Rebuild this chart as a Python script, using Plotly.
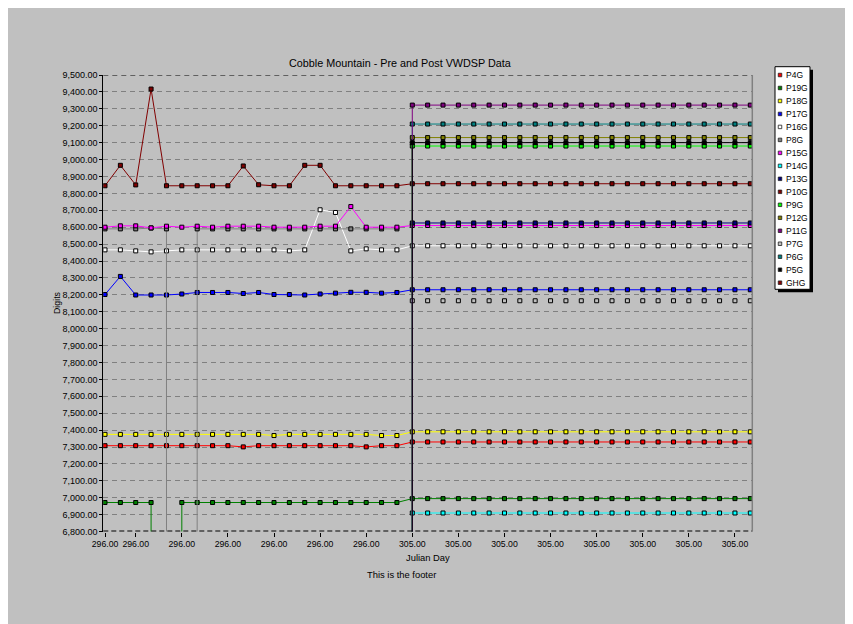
import plotly.graph_objects as go

W, H = 853, 624
MISSING = -999999.0  # logger "no data" value: drawn far below the axis
N = None             # no sample recorded

# ---------------- data ----------------
x_index = list(range(43))
x_tick_index = [0, 2, 5, 8, 11, 14, 17, 20, 23, 26, 29, 32, 35, 38, 41]
x_tick_labels = ["296.00", "296.00", "296.00", "296.00", "296.00", "296.00", "296.00",
                 "305.00", "305.00", "305.00", "305.00", "305.00", "305.00", "305.00", "305.00"]

Y_MIN, Y_MAX, Y_STEP = 6800, 9500, 100

P4G = [7308, 7308, 7308, 7308, 7308, 7308, 7308, 7308, 7308, 7301, 7308, 7308, 7308, 7308, 7308, 7308, 7308, 7301, 7308, 7308,
       7330, 7330, 7330, 7330, 7330, 7330, 7330, 7330, 7330, 7330, 7330, 7330, 7330, 7330, 7330, 7330, 7330, 7330, 7330, 7330, 7330, 7330, 7330]
P19G = [6972, 6972, 6972, 6972, MISSING, 6972, 6972, 6972, 6972, 6972, 6972, 6972, 6972, 6972, 6972, 6972, 6972, 6972, 6972, 6972,
        6995, 6995, 6995, 6995, 6995, 6995, 6995, 6995, 6995, 6995, 6995, 6995, 6995, 6995, 6995, 6995, 6995, 6995, 6995, 6995, 6995, 6995, 6995]
P18G = [7375, 7375, 7375, 7375, 7375, 7375, 7375, 7375, 7375, 7375, 7375, 7368, 7375, 7375, 7375, 7375, 7375, 7375, 7368, 7368,
        7390, 7390, 7390, 7390, 7390, 7390, 7390, 7390, 7390, 7390, 7390, 7390, 7390, 7390, 7390, 7390, 7390, 7390, 7390, 7390, 7390, 7390, 7390]
P17G = [8202, 8309, 8199, 8199, 8199, 8205, 8214, 8214, 8214, 8208, 8214, 8202, 8202, 8199, 8205, 8210, 8215, 8215, 8210, 8214,
        8230, 8230, 8230, 8230, 8230, 8230, 8230, 8230, 8230, 8230, 8230, 8230, 8230, 8230, 8230, 8230, 8230, 8230, 8230, 8230, 8230, 8230, 8230]
P16G = [8466, 8466, 8460, 8454, 8460, 8466, 8466, 8466, 8466, 8466, 8466, 8466, 8460, 8466, 8703, 8687, 8460, 8472, 8466, 8466,
        8490, 8490, 8490, 8490, 8490, 8490, 8490, 8490, 8490, 8490, 8490, 8490, 8490, 8490, 8490, 8490, 8490, 8490, 8490, 8490, 8490, 8490, 8490]
P8G = [8590, 8590, 8590, 8595, 8590, MISSING, 8590, 8590, 8590, 8590, 8590, 8590, 8590, 8590, 8590, 8590, 8590, 8590, 8590, 8590,
       N, N, N, N, N, N, N, N, N, N, N, N, N, N, N, N, N, N, N, N, N, N, N]
P15G = [8600, 8608, 8608, 8596, 8606, 8600, 8606, 8600, 8606, 8606, 8606, 8600, 8600, 8600, 8606, 8606, 8722, 8600, 8600, 8600,
        8610, 8610, 8610, 8610, 8610, 8610, 8610, 8610, 8610, 8610, 8610, 8610, 8610, 8610, 8610, 8610, 8610, 8610, 8610, 8610, 8610, 8610, 8610]
P14G = [MISSING, MISSING, MISSING, MISSING, MISSING, MISSING, MISSING, MISSING, MISSING, MISSING,
        MISSING, MISSING, MISSING, MISSING, MISSING, MISSING, MISSING, MISSING, MISSING, MISSING,
        6910, 6910, 6910, 6910, 6910, 6910, 6910, 6910, 6910, 6910, 6910, 6910, 6910, 6910, 6910, 6910, 6910, 6910, 6910, 6910, 6910, 6910, 6910]
P13G = [MISSING, MISSING, MISSING, MISSING, MISSING, MISSING, MISSING, MISSING, MISSING, MISSING,
        MISSING, MISSING, MISSING, MISSING, MISSING, MISSING, MISSING, MISSING, MISSING, MISSING,
        8625, 8625, 8625, 8625, 8625, 8625, 8625, 8625, 8625, 8625, 8625, 8625, 8625, 8625, 8625, 8625, 8625, 8625, 8625, 8625, 8625, 8625, 8625]
P10G = [8845, 8966, 8850, 9417, 8845, 8845, 8845, 8845, 8845, 8962, 8851, 8845, 8845, 8966, 8966, 8845, 8845, 8845, 8845, 8845,
        8857, 8857, 8857, 8857, 8857, 8857, 8857, 8857, 8857, 8857, 8857, 8857, 8857, 8857, 8857, 8857, 8857, 8857, 8857, 8857, 8857, 8857, 8857]
P9G = [MISSING, MISSING, MISSING, MISSING, MISSING, MISSING, MISSING, MISSING, MISSING, MISSING,
       MISSING, MISSING, MISSING, MISSING, MISSING, MISSING, MISSING, MISSING, MISSING, MISSING,
       9080, 9080, 9080, 9080, 9080, 9080, 9080, 9080, 9080, 9080, 9080, 9080, 9080, 9080, 9080, 9080, 9080, 9080, 9080, 9080, 9080, 9080, 9080]
P12G = [MISSING, MISSING, MISSING, MISSING, MISSING, MISSING, MISSING, MISSING, MISSING, MISSING,
        MISSING, MISSING, MISSING, MISSING, MISSING, MISSING, MISSING, MISSING, MISSING, MISSING,
        9130, 9130, 9130, 9130, 9130, 9130, 9130, 9130, 9130, 9130, 9130, 9130, 9130, 9130, 9130, 9130, 9130, 9130, 9130, 9130, 9130, 9130, 9130]
P11G = [MISSING, MISSING, MISSING, MISSING, MISSING, MISSING, MISSING, MISSING, MISSING, MISSING,
        MISSING, MISSING, MISSING, MISSING, MISSING, MISSING, MISSING, MISSING, MISSING, MISSING,
        9322, 9322, 9322, 9322, 9322, 9322, 9322, 9322, 9322, 9322, 9322, 9322, 9322, 9322, 9322, 9322, 9322, 9322, 9322, 9322, 9322, 9322, 9322]
P7G = [MISSING, MISSING, MISSING, MISSING, MISSING, MISSING, MISSING, MISSING, MISSING, MISSING,
       MISSING, MISSING, MISSING, MISSING, MISSING, MISSING, MISSING, MISSING, MISSING, MISSING,
       8165, 8165, 8165, 8165, 8165, 8165, 8165, 8165, 8165, 8165, 8165, 8165, 8165, 8165, 8165, 8165, 8165, 8165, 8165, 8165, 8165, 8165, 8165]
P6G = [MISSING, MISSING, MISSING, MISSING, MISSING, MISSING, MISSING, MISSING, MISSING, MISSING,
       MISSING, MISSING, MISSING, MISSING, MISSING, MISSING, MISSING, MISSING, MISSING, MISSING,
       9210, 9210, 9210, 9210, 9210, 9210, 9210, 9210, 9210, 9210, 9210, 9210, 9210, 9210, 9210, 9210, 9210, 9210, 9210, 9210, 9210, 9210, 9210]
P5G = [MISSING, MISSING, MISSING, MISSING, MISSING, MISSING, MISSING, MISSING, MISSING, MISSING,
       MISSING, MISSING, MISSING, MISSING, MISSING, MISSING, MISSING, MISSING, MISSING, MISSING,
       9100, 9100, 9100, 9100, 9100, 9100, 9100, 9100, 9100, 9100, 9100, 9100, 9100, 9100, 9100, 9100, 9100, 9100, 9100, 9100, 9100, 9100, 9100]
GHG = [N, N, N, N, N, N, N, N, N, N, N, N, N, N, N, N, N, N, N, N,
       N, N, N, N, N, N, N, N, N, N, N, N, N, N, N, N, N, N, N, N, N, N, N]

legend_names = ["P4G", "P19G", "P18G", "P17G", "P16G", "P8G", "P15G", "P14G", "P13G",
                "P10G", "P9G", "P12G", "P11G", "P7G", "P6G", "P5G", "GHG"]
series_values = {"P4G": P4G, "P19G": P19G, "P18G": P18G, "P17G": P17G, "P16G": P16G,
                 "P8G": P8G, "P15G": P15G, "P14G": P14G, "P13G": P13G, "P10G": P10G,
                 "P9G": P9G, "P12G": P12G, "P11G": P11G, "P7G": P7G, "P6G": P6G,
                 "P5G": P5G, "GHG": GHG}
series_colors = {"P4G": "#ff0000", "P19G": "#008000", "P18G": "#ffff00", "P17G": "#0000ff",
                 "P16G": "#ffffff", "P8G": "#808080", "P15G": "#ff00ff", "P14G": "#00ffff",
                 "P13G": "#000080", "P10G": "#800000", "P9G": "#00ff00", "P12G": "#808000",
                 "P11G": "#800080", "P7G": "#c0c0c0", "P6G": "#008080", "P5G": "#000000",
                 "GHG": "#8b0000"}
draw_order = ["P4G", "P19G", "P18G", "P17G", "P16G", "P8G", "P15G", "P14G", "P13G",
              "P10G", "P9G", "P12G", "P7G", "P6G", "P11G", "P5G", "GHG"]

# ---------------- layout geometry ----------------
# target positions are given in page pixels (figure sits 8 px in from the page corner)
OX, OY = 8.0, 8.0

def px(x):
    return (x - OX) / W

def py(y):
    return 1 - (y - OY) / H

PLOT_L, PLOT_R, PLOT_T, PLOT_B = 103.3, 752.3, 75.0, 531.6
LEG_L, LEG_R, LEG_T, LEG_B = 775.0, 810.0, 66.7, 289.3
FIRST_X, LAST_X = 105.0, 750.3
FONT = "Liberation Sans, Arial, sans-serif"

span = (LAST_X - FIRST_X) / 42.0
x_range = [-(FIRST_X - PLOT_L) / span, 42 + (PLOT_R - LAST_X) / span]
leg_step = 12.98
leg_range = [16 + (LEG_B - (75.0 + 16 * leg_step)) / leg_step, -(75.0 - LEG_T) / leg_step]

fig = go.Figure()

for name in draw_order:
    c = series_colors[name]
    fig.add_trace(go.Scatter(
        x=x_index, y=series_values[name], name=name, mode="lines+markers",
        line=dict(color=c, width=1),
        marker=dict(symbol="square", size=4, color=c, line=dict(color="#000000", width=1)),
        connectgaps=False, hoverinfo="skip", showlegend=False,
        xaxis="x", yaxis="y"))

# custom legend drawn on its own small axes
fig.add_trace(go.Scatter(
    x=[5] * len(legend_names), y=list(range(len(legend_names))), mode="markers",
    marker=dict(symbol="square", size=3.5, color=[series_colors[n] for n in legend_names],
                line=dict(color="#202020", width=0.8)),
    hoverinfo="skip", showlegend=False, xaxis="x2", yaxis="y2"))

annotations = []
for i, n in enumerate(legend_names):
    annotations.append(dict(x=9, y=i, xref="x2", yref="y2", text=n, showarrow=False,
                            xanchor="left", yanchor="middle",
                            font=dict(family=FONT, size=8.5, color="#000000")))

annotations += [
    dict(x=px(400), y=py(63), xref="paper", yref="paper", showarrow=False,
         text="Cobble Mountain - Pre and Post VWDSP Data", xanchor="center", yanchor="middle",
         font=dict(family=FONT, size=10.8, color="#000000")),
    dict(x=px(427.5), y=py(557), xref="paper", yref="paper", showarrow=False,
         text="Julian Day", xanchor="center", yanchor="middle",
         font=dict(family=FONT, size=9.4, color="#000000")),
    dict(x=px(401), y=py(574), xref="paper", yref="paper", showarrow=False,
         text="This is the footer", xanchor="center", yanchor="middle",
         font=dict(family=FONT, size=9.4, color="#000000")),
    dict(x=px(57), y=py(303), xref="paper", yref="paper", showarrow=False,
         text="Digits", textangle=-90, xanchor="center", yanchor="middle",
         font=dict(family=FONT, size=8.8, color="#000000")),
]

shapes = [
    # legend shadow + box
    dict(type="rect", xref="paper", yref="paper", x0=px(LEG_L + 3), x1=px(LEG_R + 3),
         y0=py(LEG_B + 3), y1=py(LEG_T + 3), fillcolor="#000000", line=dict(width=0), layer="below"),
    dict(type="rect", xref="paper", yref="paper", x0=px(LEG_L), x1=px(LEG_R),
         y0=py(LEG_B), y1=py(LEG_T), fillcolor="#ffffff", line=dict(color="#000000", width=1), layer="below"),
    # plot frame
    dict(type="line", xref="x domain", yref="y", x0=0, x1=1, y0=Y_MAX, y1=Y_MAX,
         line=dict(color="#000000", width=1, dash="5px,4px")),
    dict(type="line", xref="x domain", yref="y", x0=0, x1=1, y0=Y_MIN, y1=Y_MIN,
         line=dict(color="#000000", width=2, dash="5px,3px")),
    dict(type="line", xref="x domain", yref="y domain", x0=1, x1=1, y0=0, y1=1,
         line=dict(color="#808080", width=1.5)),
]

fig.update_layout(
    width=W, height=H, autosize=False,
    margin=dict(l=0, r=0, t=0, b=0, pad=0),
    paper_bgcolor="#c0c0c0", plot_bgcolor="rgba(0,0,0,0)",
    showlegend=False,
    font=dict(family=FONT, size=9, color="#000000"),
    xaxis=dict(domain=[px(PLOT_L), px(PLOT_R)], range=x_range, anchor="y",
               tickmode="array", tickvals=x_tick_index, ticktext=x_tick_labels,
               tickangle=0, ticks="outside", ticklen=4, tickcolor="#000000", showgrid=False,
               zeroline=False, showline=False, automargin=False,
               tickfont=dict(family=FONT, size=8.7)),
    yaxis=dict(domain=[py(PLOT_B), py(PLOT_T)], range=[Y_MIN, Y_MAX], anchor="x",
               tick0=Y_MIN, dtick=Y_STEP, tickformat=",.2f",
               ticks="outside", ticklen=3, tickcolor="#000000",
               showline=True, linecolor="#000000", linewidth=1,
               showgrid=True, gridcolor="#808080", gridwidth=1, griddash="5px,4px",
               zeroline=False, automargin=False, tickfont=dict(family=FONT, size=9)),
    xaxis2=dict(domain=[px(LEG_L), px(LEG_R)], range=[0, LEG_R - LEG_L], anchor="y2",
                visible=False, fixedrange=True),
    yaxis2=dict(domain=[py(LEG_B), py(LEG_T)], range=leg_range, anchor="x2",
                visible=False, fixedrange=True),
    annotations=annotations,
    shapes=shapes,
)

fig.write_html("out.html")
